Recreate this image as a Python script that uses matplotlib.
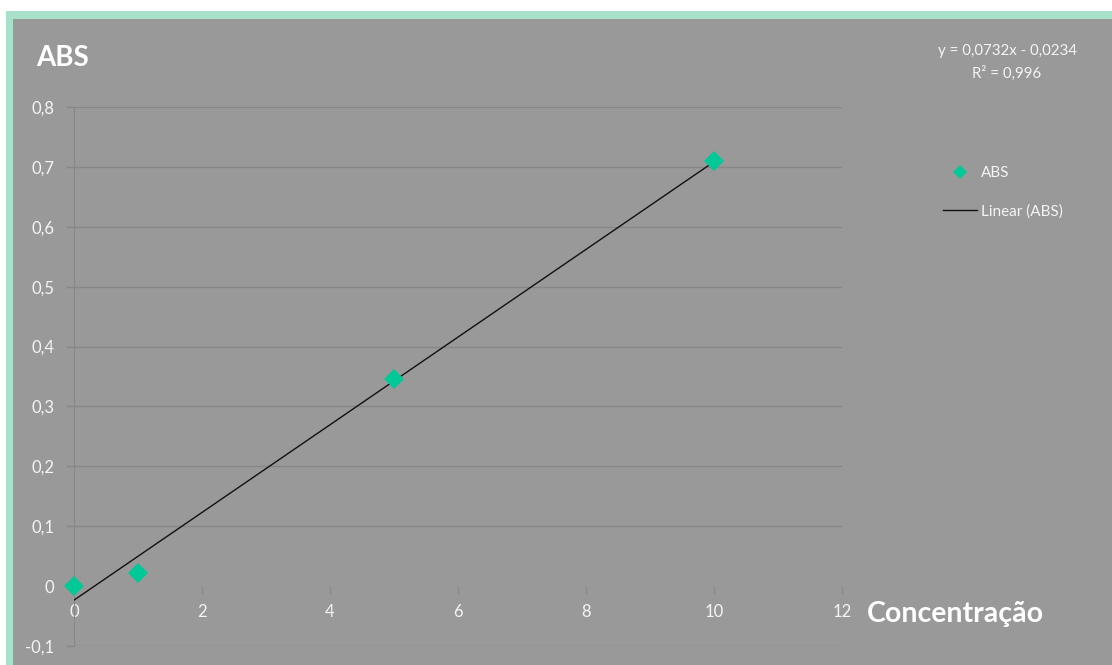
import numpy as np
import matplotlib.pyplot as plt
from matplotlib.patches import Rectangle
from matplotlib.lines import Line2D

# Calibration data
conc = [0, 1, 5, 10]
abs_vals = [0.0, 0.022, 0.345, 0.71]

# Linear trend line (least squares result)
slope = 0.0732
intercept = -0.0234
r2 = 0.996

W, H = 1112, 665
plt.rcParams['font.family'] = ['Lato', 'DejaVu Sans']

fig = plt.figure(figsize=(W / 100, H / 100), dpi=100, facecolor='white')

# Mint frame and grey chart area
fig.patches.append(Rectangle((6 / W, 0), 1 - 6 / W, 1 - 11 / H, transform=fig.transFigure,
                             facecolor='#a8e1c9', edgecolor='none', zorder=-2))
fig.patches.append(Rectangle((13 / W, 0), 1 - 13 / W, 1 - 19 / H, transform=fig.transFigure,
                             facecolor='#999999', edgecolor='none', zorder=-1))

ax = fig.add_axes([74 / W, (H - 646) / H, (842 - 74) / W, (646 - 107) / H])
ax.set_zorder(1)
ax.set_facecolor('none')

ax.set_xlim(0, 12)
ax.set_ylim(-0.1, 0.8)
ax.set_xticks(np.arange(0, 13, 2))
yt = np.round(np.arange(-0.1, 0.81, 0.1), 1)
ax.set_yticks(yt)
ax.set_yticklabels(['0' if v == 0 else f'{v:.1f}'.replace('.', ',') for v in yt])

ax.grid(axis='y', color='#878787', linewidth=1)
ax.set_axisbelow(True)
# no gridline along the zero level
for v, gl in zip(yt, ax.get_ygridlines()):
    if v == 0:
        gl.set_visible(False)
for s in ['top', 'right']:
    ax.spines[s].set_visible(False)
ax.spines['left'].set_color('#878787')
ax.spines['bottom'].set_position(('data', 0))
ax.spines['bottom'].set_visible(False)

ax.tick_params(axis='y', colors='#878787', labelcolor='#f4f4f4', labelsize=12,
               length=6, width=1, pad=8)
ax.tick_params(axis='x', colors='#8a8a8a', labelcolor='#f4f4f4', labelsize=12,
               length=6, width=1, direction='out', pad=7)

# Trend line across the data range
xt = np.array([min(conc), max(conc)])
ax.plot(xt, slope * xt + intercept, color='#111111', linewidth=1, zorder=3)
ax.plot(conc, abs_vals, linestyle='none', marker='D', markersize=10,
        color='#00c896', markeredgewidth=0, zorder=4, clip_on=False)

# Titles
fig.text(36 / W, 1 - 58 / H, 'ABS', color='white', fontsize=20, fontweight='bold',
         va='center', ha='left')
fig.text(867 / W, 1 - 614 / H, 'Concentração', color='white', fontsize=20.5,
         fontweight='bold', va='center', ha='left')

# Equation of the trend line
sign = '-' if intercept < 0 else '+'
eq = f'y = {slope:.4f}x {sign} {abs(intercept):.4f}'.replace('.', ',')
fig.text(1007 / W, 1 - 51 / H, eq, color='#f4f4f4', fontsize=10.8, ha='center', va='center')
fig.text(1007 / W, 1 - 73 / H, f'R² = {r2:.3f}'.replace('.', ','), color='#f4f4f4',
         fontsize=10.8, ha='center', va='center')

# Legend
handles = [Line2D([], [], linestyle='none', marker='D', markersize=7.5, color='#00c896',
                  markeredgewidth=0),
           Line2D([], [], color='#111111', linewidth=1)]
fig.legend(handles, ['ABS', 'Linear (ABS)'], loc='upper left',
           bbox_to_anchor=(943 / W, 1 - 166 / H), frameon=False, fontsize=11,
           labelcolor='#f4f4f4', handlelength=2.2, handletextpad=0.3,
           labelspacing=1.6, borderpad=0, borderaxespad=0)

plt.savefig('out.png', dpi=100, facecolor='white')
